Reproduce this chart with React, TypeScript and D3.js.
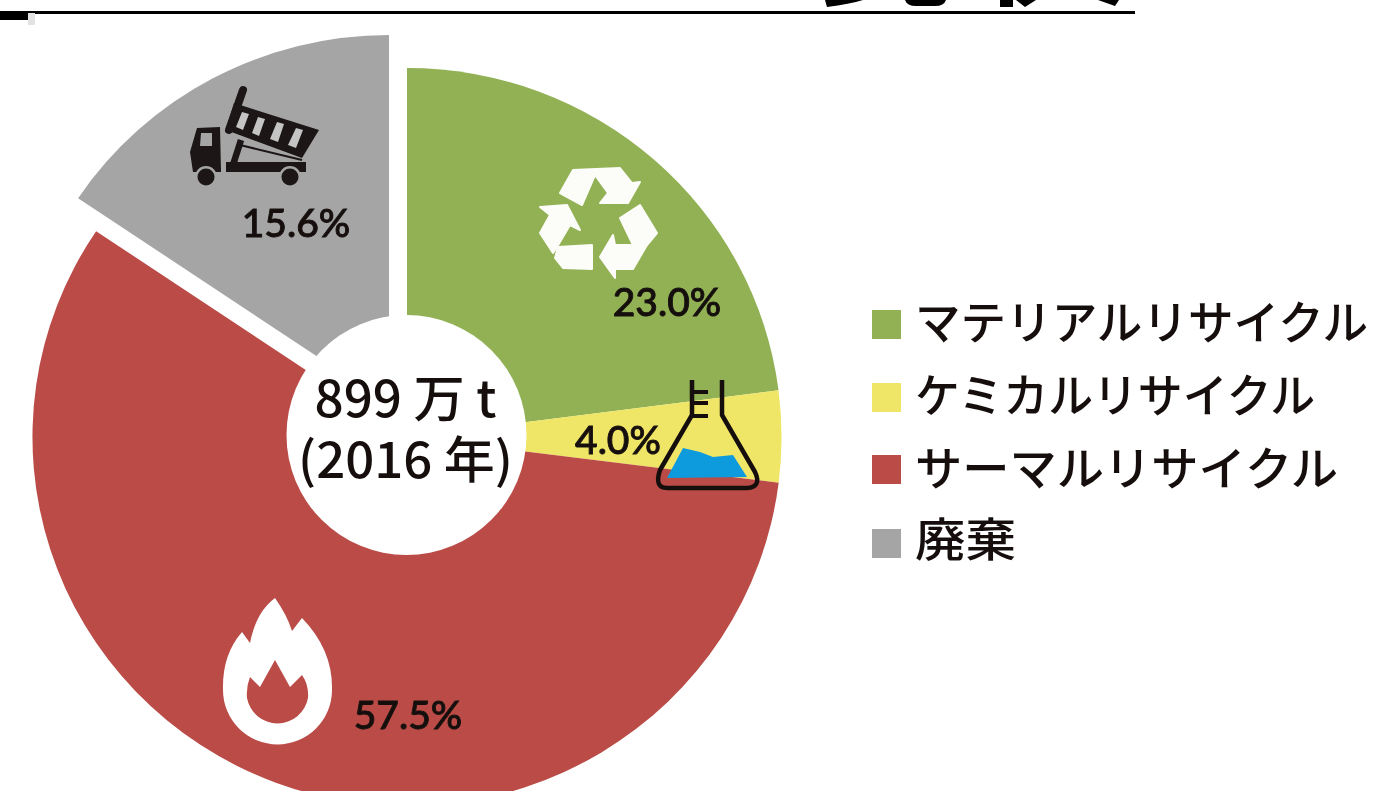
import React from "react";
import * as d3 from "d3";

const categories = ["マテリアルリサイクル", "ケミカルリサイクル", "サーマルリサイクル", "廃棄"];
const shares = [23.0, 4.0, 57.5, 15.6];
const shareLabels = ["23.0%", "4.0%", "57.5%", "15.6%"];
const colors = ["#92B155", "#EFE566", "#BA4B47", "#A5A5A6"];
const labelAt: [number, number][] = [
  [667, 316],
  [618, 454],
  [408, 729],
  [296, 237],
];
const legendBoxY = [310, 383, 455, 529];
const legendBaseY = [339, 412, 485, 556];
const legendWidths = [453, 400, 423, 101];
const centerLines = ["899 万 t", "(2016 年)"];
const centerBaseY = [417, 478];
const centerWidths = [182, 215];

const W = 1375, H = 791;
const CX = 407, CY = 437, R = 369, SX = 1.015;
const explode = [-18, -33];
const FONT = "'Noto Sans CJK JP', sans-serif";

const Truck = () => (
  <g>
    <path d="M193 172 L190 152 L197 128 L220 127 L221 172 Z M201 133 L200 146 L212 146 L212 133 Z" fill="#1a1414" fillRule="evenodd" />
    <circle cx={206} cy={177} r={11} fill="#A5A5A6" />
    <circle cx={206} cy={177} r={8.5} fill="#1a1414" />
    <rect x={226} y={162} width={80} height={10} fill="#1a1414" />
    <circle cx={290} cy={177} r={11} fill="#A5A5A6" />
    <circle cx={290} cy={177} r={8.5} fill="#1a1414" />
    <path d="M243 90 L229 130" stroke="#1a1414" strokeWidth={8} strokeLinecap="round" />
    <path d="M234 103 L319 130 L302 158 L226 130 Z" fill="#1a1414" />
    <path d="M242 112 L249 114 L243 130 L236 127 Z M258 117 L265 119 L259 136 L252 133 Z M277 122 L284 124 L278 142 L270 139 Z M296 128 L303 130 L296 148 L288 145 Z" fill="#c4c4c4" />
    <path d="M241 140 L232 168" stroke="#1a1414" strokeWidth={6.5} />
    <path d="M240 145 L302 160" stroke="#1a1414" strokeWidth={2} />
  </g>
);

const Recycle = () => (
  <g fill="#FCFDF8" stroke="#FCFDF8" strokeWidth={2} strokeLinejoin="round">
    <path d="M560 193 L573 170 L620 168 L632 183 L640 182 L628 203 L600 203 L608 193 L595 175 L582 205 Z" />
    <path d="M620 218 L640 205 L657 233 L647 245 L633 245 Z" />
    <path d="M647 245 L633 269 L615 269 L615 278 L600 257 L613 235 L615 245 Z" />
    <path d="M558 247 L592 245 L592 269 L563 268 L555 258 Z" />
    <path d="M540 207 L567 205 L580 230 L570 225 L557 247 L553 253 L540 233 L550 215 Z" />
  </g>
);

const Flask = () => (
  <g>
    <path d="M667 478 L683 448 L700 452 L713 457 L733 455 L747 477 Z" fill="#0F9BDD" />
    <path
      d="M692 380 L692 415 L660 470 Q654 488 667 488 L747 488 Q762 487 755 472 L722 415 L722 380"
      fill="none" stroke="#16100e" strokeWidth={4.5} strokeLinejoin="round"
    />
    <path d="M692 392 L708 392 M692 403 L708 403 M692 416 L708 416" stroke="#16100e" strokeWidth={4} />
  </g>
);

const Flame = () => (
  <path
    fillRule="evenodd"
    fill="#FFFFFF"
    d="M275 598 Q287 615 292 631 L302 618 Q333 650 332 690 A54 54 0 0 1 223 690 Q222 655 242 632 L250 643 Q256 612 275 598 Z
       M275 660 L290 687 L302 675 Q309 685 308 698 A31 31 0 0 1 247 698 Q246 687 250 677 L260 687 Z"
  />
);

export default function App() {
  const pie = d3.pie<number>().sort(null).value((d) => d);
  const arc = d3.arc<d3.PieArcDatum<number>>().innerRadius(0).outerRadius(R);
  const arcs = pie(shares);
  return (
    <svg
      width={W}
      height={H}
      viewBox={`0 0 ${W} ${H}`}
      style={{ position: "absolute", left: 0, top: 0, background: "#fff" }}
    >
      <defs>
        <filter id="soft" x="-5%" y="-5%" width="110%" height="110%">
          <feGaussianBlur stdDeviation={0.7} />
        </filter>
      </defs>
      {/* clipped header of the source page */}
      <rect x={0} y={11} width={1135} height={3} fill="#000" />
      <rect x={0} y={12} width={28} height={8} fill="#000" />
      <rect x={28} y={13} width={7} height={12} fill="#e2e2e2" />
      <path d="M825 0 L863 0 Q850 4 827 7 Z" fill="#000" />
      <path d="M905 0 L946 0 Q944 6 935 6 L916 6 Q907 6 905 0 Z" fill="#000" />
      <path d="M1000 0 L1013 0 L1013 7 L1000 7 Z M1016 0 L1036 0 L1025 7 Z" fill="#000" />
      <path d="M1098 0 L1119 0 L1115 6 Z" fill="#000" />

      <g filter="url(#soft)">
        {arcs.map((a, i) => {
          const isGray = i === arcs.length - 1;
          const dx = isGray ? explode[0] : 0;
          const dy = isGray ? explode[1] : 0;
          return (
            <path
              key={categories[i]}
              d={arc(a) as string}
              fill={colors[i]}
              transform={`translate(${CX + dx},${CY + dy}) scale(${SX},1)`}
            />
          );
        })}
        <circle cx={406.5} cy={435} r={120} fill="#fff" />
        <Truck />
        <Recycle />
        <Flame />
        <Flask />
        {shareLabels.map((t, i) => (
          <text
            key={t}
            x={labelAt[i][0]}
            y={labelAt[i][1]}
            fontSize={39}
            textAnchor="middle"
            fontFamily="Lato, sans-serif"
            fontWeight={500}
            stroke="#17110f"
            strokeWidth={0.9}
            fill="#17110f"
          >
            {t}
          </text>
        ))}
        <text fontSize={50} textAnchor="middle" fontFamily={FONT} fontWeight={500} fill="#17110f">
          {centerLines.map((t, i) => (
            <tspan
              key={t}
              x={405.5}
              y={centerBaseY[i]}
              textLength={centerWidths[i]}
              lengthAdjust="spacingAndGlyphs"
            >
              {t}
            </tspan>
          ))}
        </text>
        {categories.map((c, i) => (
          <g key={c}>
            <rect x={872} y={legendBoxY[i]} width={29} height={29} fill={colors[i]} />
            <text
              x={915}
              y={legendBaseY[i]}
              fontSize={46}
              textLength={legendWidths[i]}
              lengthAdjust="spacingAndGlyphs"
              fontFamily={FONT}
              fontWeight={500}
              fill="#17110f"
            >
              {c}
            </text>
          </g>
        ))}
      </g>
    </svg>
  );
}
